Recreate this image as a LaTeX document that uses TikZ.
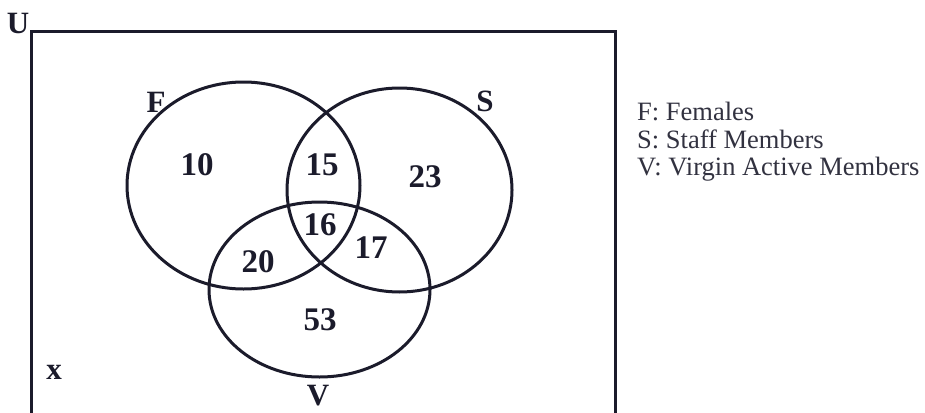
\documentclass[tikz,border=0pt]{standalone}
\usepackage{fontspec}
\setmainfont{Liberation Serif}
\usetikzlibrary{shapes.geometric}
\definecolor{ink}{HTML}{1B1B2B}
\begin{document}
\begin{tikzpicture}[x=1pt,y=-1pt,
  setline/.style={draw=ink, line width=3pt, ellipse, inner sep=0pt},
  num/.style={text=ink, font=\fontsize{33}{33}\selectfont\bfseries, inner sep=0pt},
  lbl/.style={text=ink, font=\fontsize{31}{31}\selectfont\bfseries, inner sep=0pt},
  legend/.style={text=ink!90, font=\fontsize{26.5}{28}\selectfont, anchor=base west, inner sep=0pt}]
\useasboundingbox[fill=white] (0,0) rectangle (925,412);
% universe box (open at the bottom)
\coordinate (bl) at (31.5,414);
\coordinate (tl) at (31.5,31.5);
\coordinate (tr) at (615,31.5);
\coordinate (br) at (615,414);
\draw[ink, line width=3pt] (bl) -- (tl) -- (tr) -- (br);
% sets
\node[setline, minimum width=233, minimum height=207] (F) at (243.5,185.5) {};
\node[setline, minimum width=225, minimum height=204] (S) at (399.5,190) {};
\node[setline, minimum width=221, minimum height=175] (V) at (319.5,289.5) {};
% labels
\node[lbl] (lU) at (18,23) {U};
\node[lbl] (lF) at (156,102) {F};
\node[lbl] (lS) at (485,101) {S};
\node[lbl] (lV) at (318,396) {V};
\node[lbl] (lx) at (54,372) {x};
% numbers
\node[num] (n10) at (197,165) {10};
\node[num] (n15) at (322,165) {15};
\node[num] (n23) at (425,177) {23};
\node[num] (n16) at (320,225) {16};
\node[num] (n17) at (371,248) {17};
\node[num] (n20) at (258,262) {20};
\node[num] (n53) at (320,320) {53};
% legend
\node[legend] (g1) at (637,120) {F: Females};
\node[legend] (g2) at (637,148) {S: Staff Members};
\node[legend] (g3) at (637,175) {V: Virgin Active Members};
\end{tikzpicture}
\end{document}
